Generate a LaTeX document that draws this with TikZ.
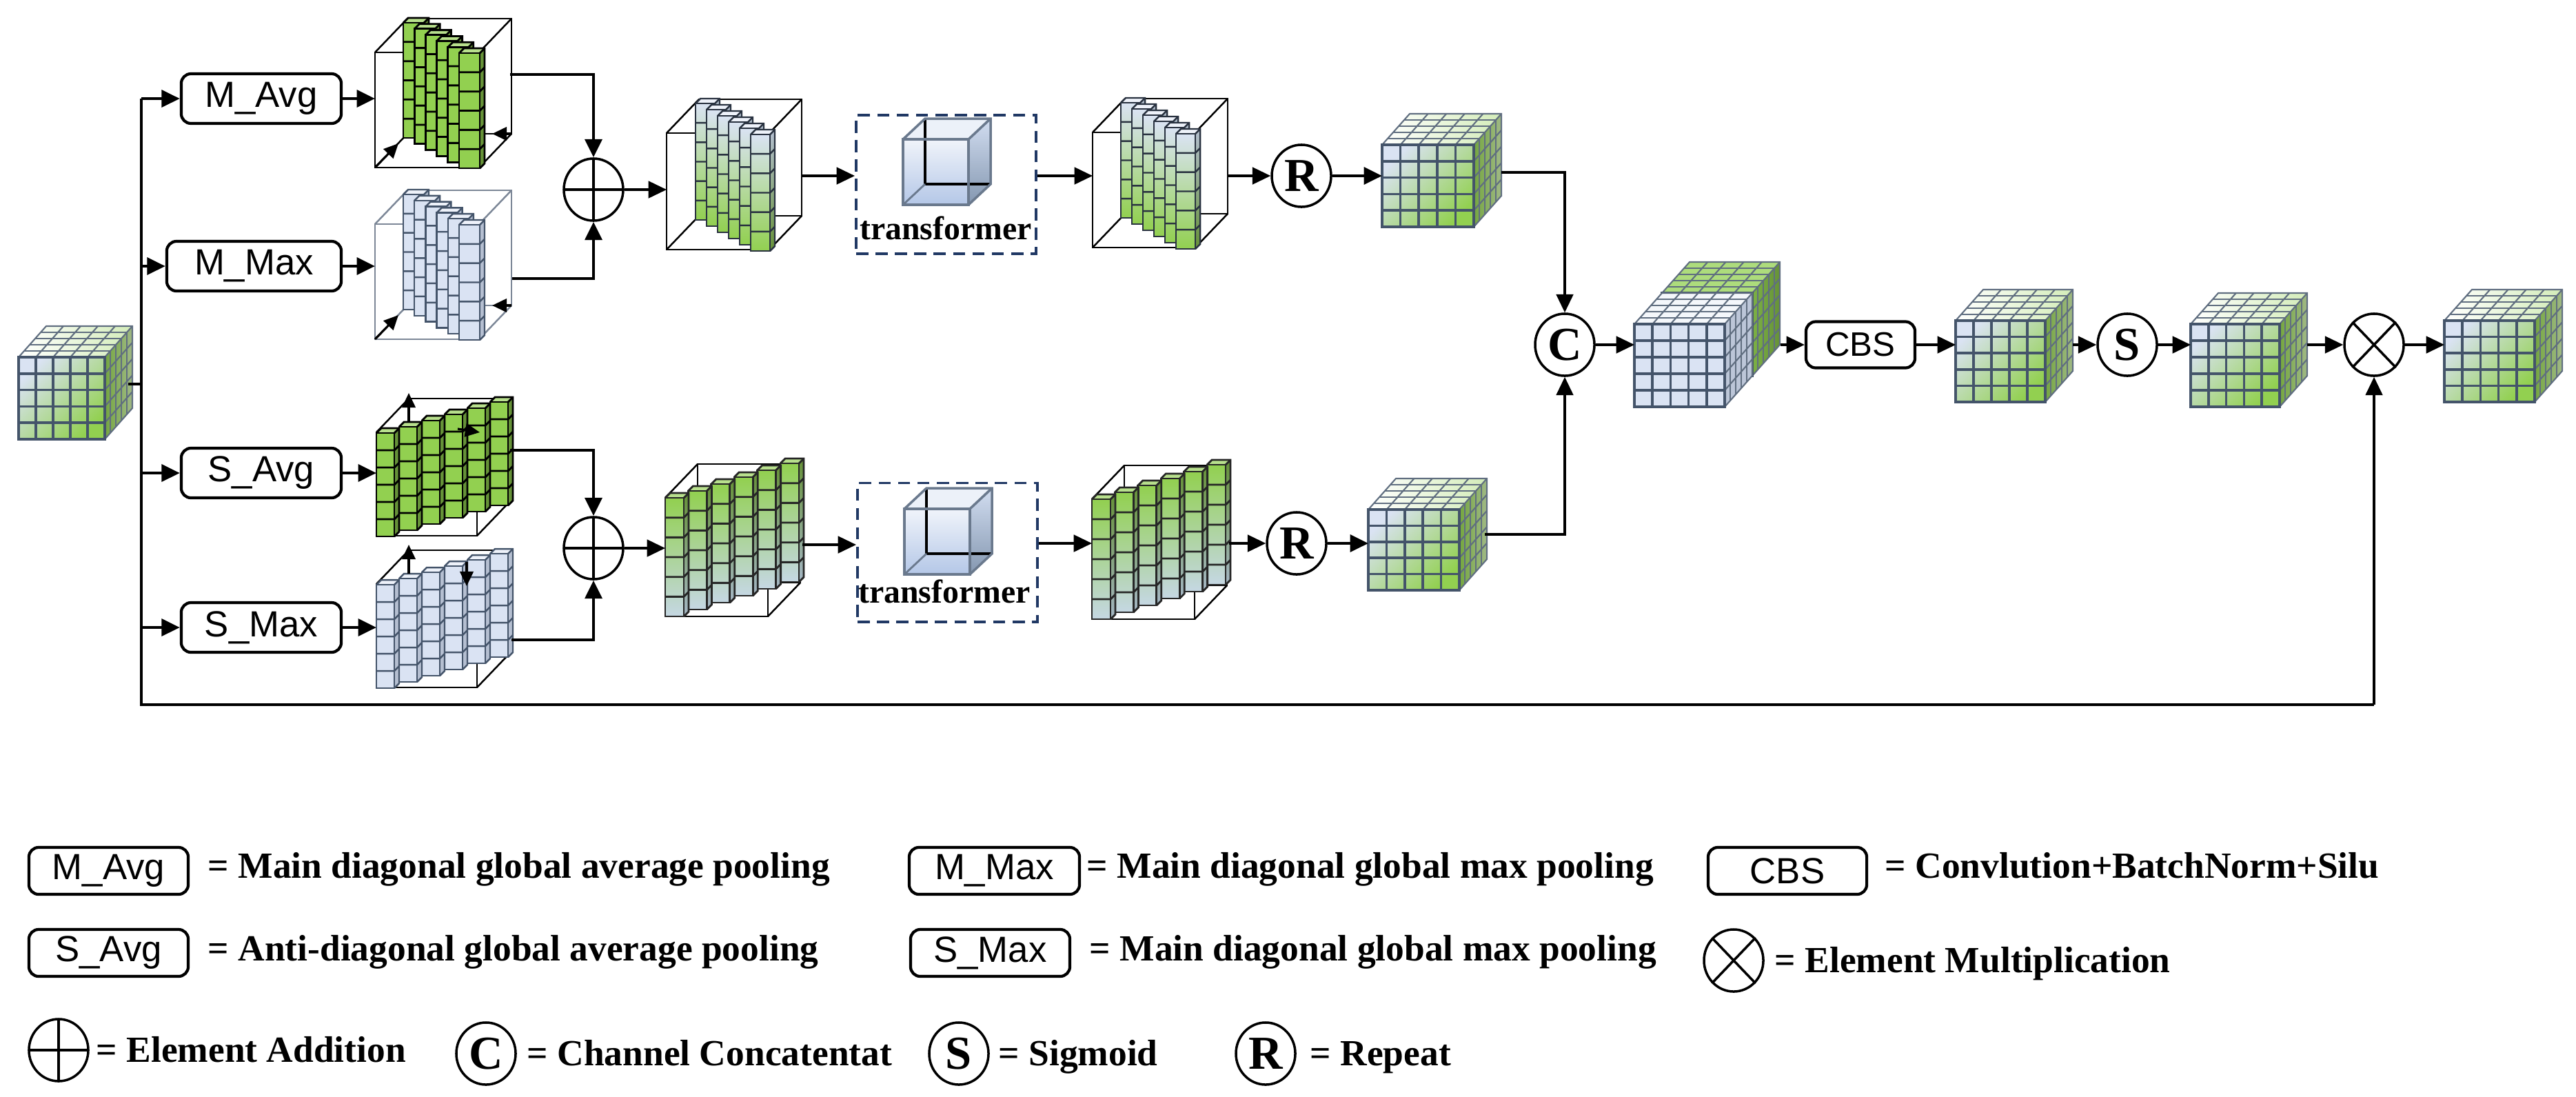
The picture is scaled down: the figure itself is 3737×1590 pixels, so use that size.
\documentclass[tikz,border=0pt]{standalone}
\usepackage{fontspec}
\setmainfont{Liberation Serif}
\setsansfont{Liberation Sans}
\usetikzlibrary{arrows.meta,shapes.geometric}
\newcommand{\myfs}[1]{\fontsize{#1pt}{#1pt}\selectfont}
\definecolor{bface}{HTML}{DAE3F3}
\definecolor{gface}{HTML}{92D050}
\definecolor{gline}{HTML}{44546A}
\definecolor{navy}{HTML}{203864}
\definecolor{pris}{HTML}{B4C7E7}
\definecolor{prisd}{HTML}{8497B0}
\definecolor{lbg}{HTML}{C5D7E3}
\tikzset{
  conn/.style={line width=1.3pt, -{Triangle[length=7.5pt,width=7pt]}},
  thinconn/.style={line width=0.9pt, -{Triangle[length=7.5pt,width=7pt]}},
  plain/.style={line width=1.3pt},
  smallarr/.style={line width=0.9pt, -{Triangle[length=6pt,width=5.5pt]}},
  opbox/.style={draw, line width=1.2pt, rounded corners=4pt, minimum height=0.72cm, inner sep=0pt, font=\sffamily\myfs{15}},
  circop/.style={draw, ellipse, line width=1pt, minimum width=0.86cm, minimum height=0.9cm, inner sep=0pt, font=\bfseries\myfs{19.5}},
  addop/.style={circop, path picture={\draw[line width=1pt] (path picture bounding box.north) -- (path picture bounding box.south) (path picture bounding box.west) -- (path picture bounding box.east);}},
  trbox/.style={draw=navy, line width=1.1pt, dash pattern=on 5pt off 3pt, minimum width=2.61cm, minimum height=2.01cm, inner sep=0pt},
  trtext/.style={font=\bfseries\myfs{13.6}, inner sep=0pt},
  legtext/.style={font=\bfseries\myfs{15.2}, inner sep=0pt, anchor=base west},
  % grid cubes
  cfront/.style={top color=bface, bottom color=gface, middle color=bface!50!gface, shading angle=45},
  ctop/.style={left color=white, right color=gface!40!white},
  cside/.style={left color=gface!80!black, right color=gface!50!gray!80!white},
  cgridf/.style={draw=gline, line width=1pt},
  cgridt/.style={draw=gline!85, line width=0.6pt},
  kbfront/.style={fill=gface},
  kbtop/.style={fill=gface!75!white},
  kbside/.style={left color=gface!85!black, right color=gface!70!black},
  kbgridf/.style={draw=gline, line width=1pt},
  kbgridt/.style={draw=gline!85, line width=0.6pt},
  kffront/.style={fill=bface},
  kftop/.style={fill=bface!30!white},
  kfside/.style={fill=bface!80!gline},
  kfgridf/.style={draw=gline, line width=1pt},
  kfgridt/.style={draw=gline!85, line width=0.6pt},
  % columns
  gcfront/.style={fill=gface}, gcside/.style={fill=gface!70!black}, gctop/.style={fill=gface!65!white}, gcline/.style={draw=black, line width=0.8pt},
  bcfront/.style={fill=bface}, bcside/.style={fill=bface!75!gline}, bctop/.style={fill=bface!45!white}, bcline/.style={draw=gline, line width=0.7pt},
  fcfront/.style={top color=bface, bottom color=gface}, fcside/.style={top color=bface!75!gline, bottom color=gface!70!black}, fctop/.style={fill=bface!45!white}, fcline/.style={draw=gline!60!black, line width=0.7pt},
  rcfront/.style={top color=gface, bottom color=lbg}, rcside/.style={top color=gface!70!black, bottom color=lbg!75!gline}, rctop/.style={fill=gface!65!white}, rcline/.style={draw=black!85, line width=0.8pt},
  gwire/.style={draw=black, line width=0.7pt},
  bwire/.style={draw=gline!70, line width=0.7pt}
}
% grid cube: x y w h prefix (front top-left corner)
\newcommand{\mycube}[5]{%
  \fill[#5front] (#1,#2) rectangle ++(#3,#4);
  \fill[#5top] (#1,#2) -- ++(#3,0) -- ++(40,-45) -- ++(-#3,0) -- cycle;
  \fill[#5side] (#1+#3,#2) -- ++(40,-45) -- ++(0,#4) -- ++(-40,45) -- cycle;
  \foreach \k in {1,...,4} {
    \draw[#5gridt] ({#1+\k*#3/5},#2) -- ++(40,-45);
    \draw[#5gridt] ({#1+8*\k},{#2-9*\k}) -- ++(#3,0);
    \draw[#5gridt] ({#1+#3+8*\k},{#2-9*\k}) -- ++(0,#4);
    \draw[#5gridt] (#1+#3,{#2+\k*#4/5}) -- ++(40,-45);
    \draw[#5gridf] ({#1+\k*#3/5},#2) -- ++(0,#4);
    \draw[#5gridf] (#1,{#2+\k*#4/5}) -- ++(#3,0);
  }
  \draw[#5gridt] (#1,#2) -- ++(40,-45) -- ++(#3,0) -- ++(0,#4) -- ++(-40,45);
  \draw[#5gridt] (#1+#3,#2) -- ++(40,-45);
  \draw[#5gridf] (#1,#2) rectangle ++(#3,#4);
}
% column of cubes: x y w h prefix
\newcommand{\mycol}[5]{%
  \fill[#5front] (#1,#2) rectangle ++(#3,#4);
  \fill[#5side] (#1+#3,#2) -- ++(7,-7) -- ++(0,#4) -- ++(-7,7) -- cycle;
  \fill[#5top] (#1,#2) -- ++(7,-7) -- ++(#3,0) -- ++(-7,7) -- cycle;
  \foreach \k in {1,...,5} {\draw[#5line] (#1,{#2+\k*#4/6}) -- ++(#3,0) -- ++(7,-7);}
  \draw[#5line] (#1,#2) rectangle ++(#3,#4);
  \draw[#5line] (#1,#2) -- ++(7,-7) -- ++(#3,0) -- ++(0,#4) -- ++(-7,7);
  \draw[#5line] (#1+#3,#2) -- ++(7,-7);
}
% main-diagonal columns: x y h prefix colw dx dy
\newcommand{\mymcols}[7]{\foreach \i in {0,...,5} {\pgfmathsetmacro{\qx}{#1+#6*\i}\pgfmathsetmacro{\qy}{#2+#7*\i}\mycol{\qx}{\qy}{#5}{#3}{#4}}}
\newcommand{\myacols}[7]{\foreach \i in {5,4,...,0} {\pgfmathsetmacro{\qx}{#1+#6*\i}\pgfmathsetmacro{\qy}{#2+#7*\i}\mycol{\qx}{\qy}{#5}{#3}{#4}}}
% wireframe box
\newcommand{\mywire}[5]{%
  \draw[#5] (#1,#2) rectangle ++(#3,#4);
  \draw[#5] (#1+47,#2-49) rectangle ++(#3,#4);
  \draw[#5] (#1,#2) -- ++(47,-49);
  \draw[#5] (#1+#3,#2) -- ++(47,-49);
  \draw[#5] (#1,#2+#4) -- ++(47,-49);
  \draw[#5] (#1+#3,#2+#4) -- ++(47,-49);
}
% transformer prism
\newcommand{\myprism}[2]{%
  \fill[top color=bface!40!white, bottom color=pris] (#1,#2) rectangle ++(95,95);
  \fill[top color=pris!60!white, bottom color=prisd] (#1+95,#2) -- ++(32,-30) -- ++(0,95) -- ++(-32,30) -- cycle;
  \fill[bface!50!white] (#1,#2) -- ++(32,-30) -- ++(95,0) -- ++(-32,30) -- cycle;
  \draw[black, line width=1pt] (#1+32,#2-30) -- ++(0,95) -- ++(95,0);
  \draw[prisd!80!black, line width=0.8pt] (#1+32,#2+65) -- (#1,#2+95);
  \draw[prisd!80!black, line width=1pt] (#1,#2) rectangle ++(95,95);
  \draw[prisd!80!black, line width=1pt] (#1,#2) -- ++(32,-30) -- ++(95,0) -- ++(0,95) -- ++(-32,30);
  \draw[prisd!80!black, line width=1pt] (#1+95,#2) -- ++(32,-30);
}
\begin{document}
\begin{tikzpicture}[x=0.01cm,y=-0.01cm]
\useasboundingbox (0,0) rectangle (3737,1590);
% ---------------- shapes
\mycube{27}{518}{125}{119}{c}
% M_Avg volume
\mywire{544}{76}{151}{167}{gwire}
\mymcols{585}{33}{167}{gc}{30}{16.2}{8.8}
\draw[smallarr] (544,243) -- ++(34,-35);
\draw[smallarr] (742,194) -- ++(-28,0);
% M_Max volume
\mywire{544}{325}{151}{167}{bwire}
\mymcols{585}{282}{167}{bc}{30}{16.2}{8.8}
\draw[smallarr] (544,492) -- ++(34,-35);
\draw[smallarr] (742,443) -- ++(-28,0);
% S_Avg volume
\mywire{546}{627}{146}{150}{gwire}
\myacols{546}{628}{150}{gc}{26}{33}{-9}
\draw[smallarr] (593,612) -- (593,570);
\draw[smallarr] (664,622) -- (696,627);
% S_Max volume
\mywire{546}{847}{146}{150}{gwire}
\myacols{546}{848}{150}{bc}{26}{33}{-9}
\draw[smallarr] (593,832) -- (593,790);
\draw[smallarr] (677,815) -- (677,850);
% fused volumes
\mywire{967}{193}{149}{169}{gwire}
\mymcols{1009}{150}{169}{fc}{28}{16}{9}
\mywire{1585}{192}{149}{167}{gwire}
\mymcols{1626}{149}{167}{fc}{28}{16}{9}
\mywire{965}{722}{149}{172}{gwire}
\myacols{965}{722}{172}{rc}{27}{33.4}{-10}
\mywire{1584}{724}{149}{174}{gwire}
\myacols{1584}{724}{174}{rc}{27}{33.4}{-10}
% transformers
\node[trbox] (trT) at (1372.5,267.5) {};
\myprism{1310}{202}
\node[trtext] (trTt) at (1372,331) {transformer};
\node[trbox] (trB) at (1374.5,801) {};
\myprism{1312}{738}
\node[trtext] (trBt) at (1370,858) {transformer};
% cubes
\mycube{2005}{210}{133}{119}{c}
\mycube{1985}{739}{132}{117}{c}
\mycube{2411}{425}{131}{120}{kb}
\mycube{2371}{470}{131}{120}{kf}
\mycube{2837}{465}{130}{118}{c}
\mycube{3178}{470}{129}{120}{c}
\mycube{3546}{465}{131}{118}{c}
% ---------------- nodes
\node[opbox, minimum width=2.32cm] (mavg) at (379,143) {M\_Avg};
\node[opbox, minimum width=2.53cm] (mmax) at (368.5,386) {M\_Max};
\node[opbox, minimum width=2.32cm] (savg) at (379,686) {S\_Avg};
\node[opbox, minimum width=2.32cm] (smax) at (379,910) {S\_Max};
\node[addop] (addT) at (861,275) {};
\node[addop] (addB) at (861,795) {};
\node[circop] (rT) at (1888,255) {R};
\node[circop] (rB) at (1881,788) {R};
\node[circop] (cat) at (2270,500) {C};
\node[opbox, minimum width=1.58cm, minimum height=0.67cm, font=\sffamily\myfs{14}] (cbs) at (2699,500) {CBS};
\node[circop] (sig) at (3086,500) {S};
\node[circop] (mul) at (3444,500) {};
\draw[line width=1pt] (mul.north west) -- (mul.south east) (mul.north east) -- (mul.south west);
% ---------------- coordinates
\coordinate (inR) at (186,557);
\coordinate (tj) at (205,557);
\coordinate (t1) at (205,143);
\coordinate (t2) at (205,386);
\coordinate (t3) at (205,686);
\coordinate (t4) at (205,910);
\coordinate (tb) at (205,1022);
\coordinate (tr) at (3444,1022);
\coordinate (mavgin) at (544,143);
\coordinate (mmaxin) at (544,386);
\coordinate (savgin) at (546,686);
\coordinate (smaxin) at (546,910);
\coordinate (mavgout) at (740,108);
\coordinate (mmaxout) at (743,404);
\coordinate (savgout) at (740,653);
\coordinate (smaxout) at (742,928);
\coordinate (ftin) at (967,275);
\coordinate (ftout) at (1163,255);
\coordinate (v2in) at (1585,255);
\coordinate (v2out) at (1780,255);
\coordinate (cTin) at (2005,255);
\coordinate (cTout) at (2178,250);
\coordinate (fbin) at (965,795);
\coordinate (fbout) at (1164,790);
\coordinate (v2bin) at (1584,788);
\coordinate (v2bout) at (1783,788);
\coordinate (cBin) at (1985,788);
\coordinate (cBout) at (2154,775);
\coordinate (catin) at (2371,500);
\coordinate (catout) at (2583,500);
\coordinate (c3in) at (2837,500);
\coordinate (c3out) at (3007,500);
\coordinate (c4in) at (3178,500);
\coordinate (c4out) at (3347,500);
\coordinate (fin) at (3546,500);
% ---------------- connectors
\draw[plain] (inR) -- (tj);
\draw[plain] (t1) -- (tb) -- (tr);
\draw[conn] (t1) -- (mavg.west);
\draw[conn] (t2) -- (mmax.west);
\draw[conn] (t3) -- (savg.west);
\draw[conn] (t4) -- (smax.west);
\draw[thinconn] (tr) -- (mul.south);
\draw[conn] (mavg.east) -- (mavgin);
\draw[conn] (mmax.east) -- (mmaxin);
\draw[conn] (savg.east) -- (savgin);
\draw[conn] (smax.east) -- (smaxin);
\draw[conn] (mavgout) -| (addT.north);
\draw[conn] (mmaxout) -| (addT.south);
\draw[conn] (savgout) -| (addB.north);
\draw[conn] (smaxout) -| (addB.south);
\draw[thinconn] (addT) -- (ftin);
\draw[thinconn] (ftout) -- (ftout -| trT.west);
\draw[thinconn] (trT.east |- v2in) -- (v2in);
\draw[thinconn] (v2out) -- (rT);
\draw[conn] (rT) -- (cTin);
\draw[thinconn] (cTout) -| (cat.north);
\draw[thinconn] (addB) -- (fbin);
\draw[thinconn] (fbout) -- (fbout -| trB.west);
\draw[thinconn] (trB.east |- v2bin) -- (v2bin);
\draw[thinconn] (v2bout) -- (rB);
\draw[conn] (rB) -- (cBin);
\draw[thinconn] (cBout) -| (cat.south);
\draw[thinconn] (cat) -- (catin);
\draw[thinconn] (catout) -- (cbs.west);
\draw[thinconn] (cbs.east) -- (c3in);
\draw[thinconn] (c3out) -- (sig);
\draw[thinconn] (sig) -- (c4in);
\draw[thinconn] (c4out) -- (mul);
\draw[thinconn] (mul) -- (fin);
% ---------------- legend
\node[opbox, minimum width=2.31cm, minimum height=0.68cm] (lmavg) at (157.5,1263) {M\_Avg};
\node[legtext] (lmavgt) at (301,1273) {= Main diagonal global average pooling};
\node[opbox, minimum width=2.47cm, minimum height=0.68cm] (lmmax) at (1442.5,1263) {M\_Max};
\node[legtext] (lmmaxt) at (1576,1273) {= Main diagonal global max pooling};
\node[opbox, minimum width=2.30cm, minimum height=0.68cm] (lcbs) at (2593,1263) {CBS};
\node[legtext] (lcbst) at (2734,1273) {= Convlution+BatchNorm+Silu};
\node[opbox, minimum width=2.31cm, minimum height=0.68cm] (lsavg) at (157.5,1382) {S\_Avg};
\node[legtext] (lsavgt) at (301,1393) {= Anti-diagonal global average pooling};
\node[opbox, minimum width=2.31cm, minimum height=0.68cm] (lsmax) at (1436.5,1382) {S\_Max};
\node[legtext] (lsmaxt) at (1580,1393) {= Main diagonal global max pooling};
\node[circop] (lmul) at (2515,1393) {};
\draw[line width=1pt] (lmul.north west) -- (lmul.south east) (lmul.north east) -- (lmul.south west);
\node[legtext] (lmult) at (2574,1410) {= Element Multiplication};
\node[addop] (ladd) at (85,1523) {};
\node[legtext] (laddt) at (139,1540) {= Element Addition};
\node[circop] (lcat) at (705,1528) {C};
\node[legtext] (lcatt) at (764,1545) {= Channel Concatentat};
\node[circop] (lsig) at (1391,1528) {S};
\node[legtext] (lsigt) at (1448,1545) {= Sigmoid};
\node[circop] (lrep) at (1836,1528) {R};
\node[legtext] (lrept) at (1900,1545) {= Repeat};
\end{tikzpicture}
\end{document}
